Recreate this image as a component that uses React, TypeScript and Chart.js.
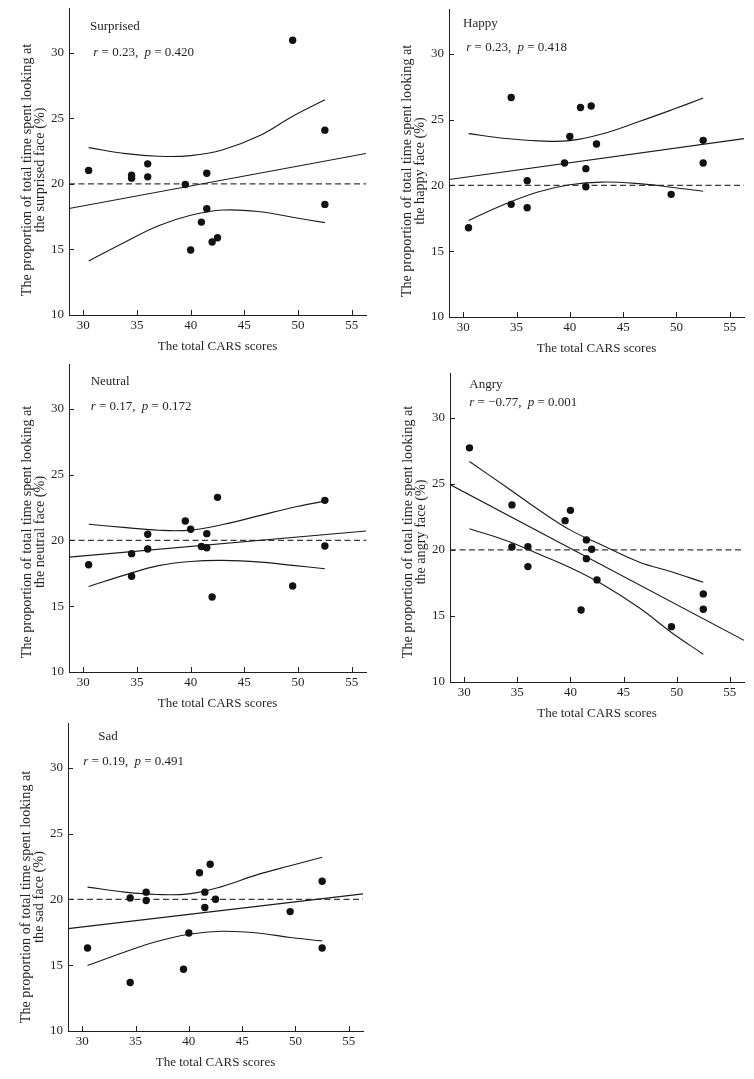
import React, { useEffect, useRef } from "react";
import { Chart, registerables } from "chart.js";

Chart.register(...registerables);

// ---------- data ----------
const X_MIN = 28.67;
const X_MAX = 56.33;
const Y_MIN = 10;
const Y_MAX = 33.4;
const xTickValues = [30, 35, 40, 45, 50, 55];
const yTickValues = [10, 15, 20, 25, 30];
const xAxisTitle = "The total CARS scores";
const yTitleLine1 = "The proportion of total time spent looking at";
const chanceLevel = 20;

const carsScores = [30.5, 34.5, 34.5, 36, 36, 39.5, 40, 41, 41.5, 41.5, 42, 42.5, 49.5, 52.5, 52.5];

const surprisedValues = [21.02, 20.66, 20.43, 21.52, 20.53, 19.95, 14.95, 17.08, 20.81, 18.1, 15.56, 15.89, 30.94, 24.09, 18.43];
const happyValues = [16.78, 26.68, 18.56, 20.35, 18.3, 21.7, 23.72, 25.92, 21.27, 19.9, 26.03, 23.14, 19.32, 23.42, 21.7];
const neutralValues = [18.15, 18.99, 17.27, 20.46, 19.34, 21.47, 20.84, 19.54, 20.51, 19.44, 15.7, 23.27, 16.53, 23.04, 19.57];
const angryValues = [27.73, 23.41, 20.23, 20.25, 18.74, 22.22, 23.0, 15.45, 20.76, 19.34, 20.05, 17.73, 14.19, 16.67, 15.51];
const sadValues = [16.31, 20.11, 13.68, 20.55, 19.91, 14.69, 17.45, 22.02, 20.55, 19.38, 22.67, 20.01, 19.07, 21.38, 16.31];

// confidence band sample positions (x) and read-off values
const bandX = [30.5, 34, 37, 40, 43, 46.5, 49.5, 52.5];
const surprisedUpper = [22.76, 22.3, 22.1, 22.15, 22.6, 23.7, 25.15, 26.4];
const surprisedLower = [14.12, 15.6, 16.8, 17.6, 18.0, 17.87, 17.45, 17.04];
const happyUpper = [23.93, 23.56, 23.38, 23.4, 23.9, 24.85, 25.72, 26.63];
const happyLower = [17.34, 18.6, 19.5, 20.05, 20.25, 20.13, 19.86, 19.55];
const neutralUpper = [21.22, 20.97, 20.77, 20.78, 21.2, 21.9, 22.5, 22.98];
const neutralLower = [16.5, 17.4, 18.08, 18.4, 18.48, 18.35, 18.1, 17.85];
const angryUpper = [26.7, 24.75, 23.05, 21.5, 20.35, 19.07, 18.35, 17.55];
const angryLower = [21.6, 20.7, 19.7, 18.65, 17.4, 15.6, 13.75, 12.1];
const sadUpper = [20.93, 20.55, 20.37, 20.42, 20.95, 21.9, 22.55, 23.2];
const sadLower = [14.97, 16.0, 16.8, 17.35, 17.58, 17.45, 17.1, 16.85];

// regression line values at X_MIN and X_MAX
const surprisedFit = [18.12, 22.31];
const happyFit = [20.45, 23.55];
const neutralFit = [18.73, 20.71];
const angryFit = [24.95, 13.16];
const sadFit = [17.78, 20.42];

const panelNames = ["Surprised", "Happy", "Neutral", "Angry", "Sad"];
const panelFaces = ["the surprised face (%)", "the happy face (%)", "the neutral face (%)", "the angry face (%)", "the sad face (%)"];
const panelR = ["0.23", "0.23", "0.17", "\u22120.77", "0.19"];
const panelP = ["0.420", "0.418", "0.172", "0.001", "0.491"];

// ---------- layout / style ----------
const INK = "#231f20";
const FONT = "'Liberation Serif', 'Times New Roman', serif";
const AXIS_W = 69;
const PAD_TOP = 8;
const PAD_RIGHT = 10;
const XAXIS_H = 42;

const layouts = [
  { l: 69, t: 8, w: 297, h: 307, name: [21, 18.7], stat: [24.3, 44.3], yMid: 162 },
  { l: 449, t: 9, w: 295, h: 308, name: [14, 14.8], stat: [17.3, 39.0], yMid: 162 },
  { l: 69, t: 364, w: 297, h: 308, name: [21.7, 17.7], stat: [21.7, 42.7], yMid: 168 },
  { l: 450, t: 373, w: 294, h: 309, name: [19.3, 12], stat: [19.3, 29.7], yMid: 159 },
  { l: 68, t: 723, w: 295, h: 308, name: [30.3, 13.7], stat: [15.3, 38.7], yMid: 174 },
];

const series = [
  { values: surprisedValues, upper: surprisedUpper, lower: surprisedLower, fit: surprisedFit },
  { values: happyValues, upper: happyUpper, lower: happyLower, fit: happyFit },
  { values: neutralValues, upper: neutralUpper, lower: neutralLower, fit: neutralFit },
  { values: angryValues, upper: angryUpper, lower: angryLower, fit: angryFit },
  { values: sadValues, upper: sadUpper, lower: sadLower, fit: sadFit },
];

function Panel({ idx }: { idx: number }) {
  const ref = useRef<HTMLCanvasElement>(null);
  const lay = layouts[idx];
  const cw = AXIS_W + lay.w + PAD_RIGHT;
  const ch = PAD_TOP + lay.h + XAXIS_H;

  useEffect(() => {
    const canvas = ref.current;
    if (!canvas) return;
    const s = series[idx];

    const decor = {
      id: "decor" + idx,
      afterDraw(chart: any) {
        const { ctx, chartArea: a, scales } = chart;
        const x = scales.x;
        const y = scales.y;
        ctx.save();
        // inward tick marks
        ctx.strokeStyle = INK;
        ctx.lineWidth = 1;
        ctx.beginPath();
        xTickValues.forEach((v) => {
          const px = Math.round(x.getPixelForValue(v)) + 0.5;
          ctx.moveTo(px, a.bottom);
          ctx.lineTo(px, a.bottom - 5);
        });
        yTickValues.forEach((v) => {
          const py = Math.round(y.getPixelForValue(v)) + 0.5;
          ctx.moveTo(a.left, py);
          ctx.lineTo(a.left + 5, py);
        });
        ctx.stroke();

        ctx.fillStyle = INK;
        ctx.textBaseline = "middle";
        ctx.textAlign = "left";
        // panel name
        ctx.font = `13px ${FONT}`;
        ctx.fillText(panelNames[idx], a.left + lay.name[0], a.top + lay.name[1]);
        // r / p statistics
        const segs: [string, boolean][] = [
          ["r", true],
          [" = " + panelR[idx] + ", ", false],
          ["p", true],
          [" = " + panelP[idx], false],
        ];
        let cx = a.left + lay.stat[0];
        const cy = a.top + lay.stat[1];
        segs.forEach(([txt, it], k) => {
          ctx.font = `${it ? "italic " : ""}13px ${FONT}`;
          ctx.fillText(txt, cx, cy);
          cx += ctx.measureText(txt).width + (k === 1 ? 3 : 0);
        });
        // y-axis title (two lines, rotated)
        ctx.font = `14.2px ${FONT}`;
        ctx.translate(a.left - 38.5, a.top + lay.yMid);
        ctx.rotate(-Math.PI / 2);
        ctx.textAlign = "center";
        ctx.textBaseline = "alphabetic";
        ctx.fillText(yTitleLine1, 0, 0);
        ctx.fillText(panelFaces[idx], 0, 13);
        ctx.restore();
      },
    };

    const lineBase = { showLine: true, pointRadius: 0, pointHoverRadius: 0, borderColor: "#1a1a1a", borderWidth: 1.1, fill: false };

    const chart = new Chart(canvas, {
      type: "scatter",
      data: {
        datasets: [
          {
            data: s.values.map((v, i) => ({ x: carsScores[i], y: v })),
            pointRadius: 3.7,
            pointHoverRadius: 3.7,
            pointBackgroundColor: "#111",
            pointBorderColor: "#111",
            pointBorderWidth: 0,
            showLine: false,
          },
          { ...lineBase, data: [{ x: X_MIN, y: s.fit[0] }, { x: X_MAX, y: s.fit[1] }] },
          { ...lineBase, tension: 0.4, data: bandX.map((v, i) => ({ x: v, y: s.upper[i] })) },
          { ...lineBase, tension: 0.4, data: bandX.map((v, i) => ({ x: v, y: s.lower[i] })) },
          {
            ...lineBase,
            borderColor: "#3a3a3a",
            borderWidth: 1.2,
            borderDash: [6, 3.5],
            data: [{ x: X_MIN, y: chanceLevel }, { x: X_MAX, y: chanceLevel }],
          },
        ],
      } as any,
      options: {
        responsive: false,
        animation: false,
        events: [],
        layout: { padding: { left: 0, top: PAD_TOP, right: PAD_RIGHT, bottom: 0 } },
        plugins: { legend: { display: false }, tooltip: { enabled: false }, title: { display: false } },
        scales: {
          x: {
            type: "linear",
            min: X_MIN,
            max: X_MAX,
            afterBuildTicks: (sc: any) => {
              sc.ticks = xTickValues.map((v) => ({ value: v }));
            },
            afterFit: (sc: any) => {
              sc.height = XAXIS_H;
              sc.paddingLeft = 0;
              sc.paddingRight = 0;
              sc.paddingTop = 0;
              sc.paddingBottom = 0;
            },
            grid: { display: false, drawTicks: false },
            border: { display: true, color: INK, width: 1 },
            ticks: {
              color: INK,
              font: { family: FONT, size: 13 },
              padding: 3,
              maxRotation: 0,
              autoSkip: false,
              callback: (v: any) => String(v),
            },
            title: {
              display: true,
              text: xAxisTitle,
              color: INK,
              font: { family: FONT, size: 13 },
              padding: { top: 0, bottom: 3 },
            },
          },
          y: {
            type: "linear",
            min: Y_MIN,
            max: Y_MAX,
            afterBuildTicks: (sc: any) => {
              sc.ticks = yTickValues.map((v) => ({ value: v }));
            },
            afterFit: (sc: any) => {
              sc.width = AXIS_W;
              sc.paddingTop = 0;
              sc.paddingBottom = 0;
              sc.paddingLeft = 0;
              sc.paddingRight = 0;
            },
            grid: { display: false, drawTicks: false },
            border: { display: true, color: INK, width: 1 },
            ticks: {
              color: INK,
              font: { family: FONT, size: 13 },
              padding: 5,
              autoSkip: false,
              callback: (v: any) => String(v),
            },
            title: { display: false },
          },
        },
      } as any,
      plugins: [decor],
    });
    return () => chart.destroy();
  }, [idx]);

  return (
    <canvas
      ref={ref}
      width={cw}
      height={ch}
      style={{ position: "absolute", left: lay.l - AXIS_W, top: lay.t - PAD_TOP, width: cw, height: ch }}
    />
  );
}

export default function App() {
  return (
    <div
      style={{
        position: "absolute",
        left: 0,
        top: 0,
        width: 754,
        height: 1079,
        background: "#ffffff",
        overflow: "hidden",
      }}
    >
      {layouts.map((_, i) => (
        <Panel key={i} idx={i} />
      ))}
    </div>
  );
}
